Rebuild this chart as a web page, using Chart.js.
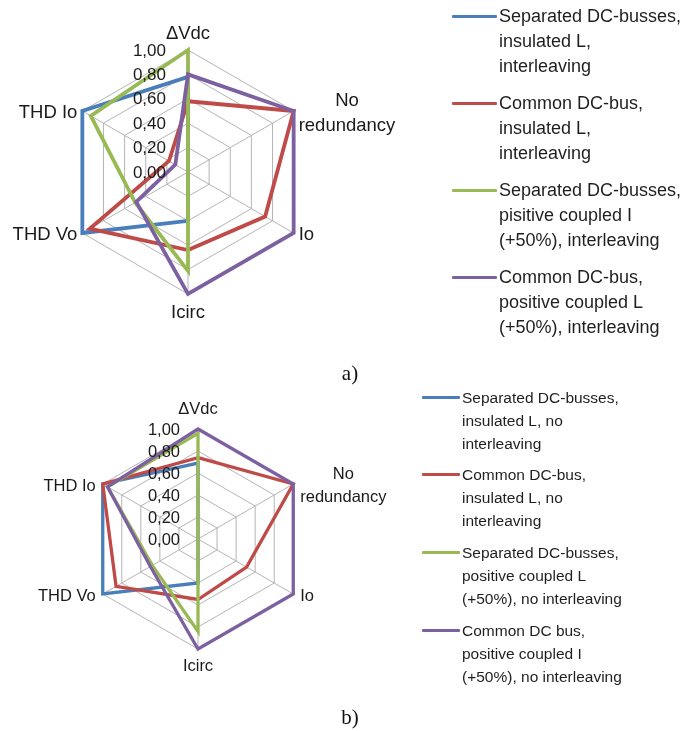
<!DOCTYPE html>
<html>
<head>
<meta charset="utf-8">
<script src="https://cdn.jsdelivr.net/npm/chart.js@4.4.1/dist/chart.umd.min.js"></script>
<style>
  html, body { margin: 0; padding: 0; background: #ffffff; }
  #fig { position: relative; width: 698px; height: 731px; overflow: hidden; background: #fff; }
  canvas { position: absolute; left: 0; }
  .legend { position: absolute; font-family: "Liberation Sans", Arial, sans-serif; color: #1f1f1f; }
  .item { position: absolute; left: 0; }
  .swatch { position: absolute; height: 3px; border-radius: 1px; }
  .txt { position: absolute; white-space: nowrap; }
  .cap { position: absolute; font-family: "Liberation Serif", "Times New Roman", serif; font-size: 21px; color: #111; transform: translate(-50%, -50%); }
</style>
</head>
<body>
<div id="fig">
  <canvas id="chartA" width="698" height="365" style="top:0"></canvas>
  <canvas id="chartB" width="698" height="366" style="top:365px"></canvas>
  <div class="legend" id="legendA"></div>
  <div class="legend" id="legendB"></div>
  <div class="cap" style="left:350px; top:373px">a)</div>
  <div class="cap" style="left:350px; top:717px">b)</div>
</div>
<script>
// Criteria around the radar, clockwise from the top
const criteria = ['ΔVdc', ['No', 'redundancy'], 'Io', 'Icirc', 'THD Vo', 'THD Io'];

// Radial axis ticks
const tickMin = 0;
const tickMax = 1;
const tickStep = 0.2;

// Series colours (same order in both plots)
const seriesColors = ['#4a7ebb', '#be4b48', '#98b954', '#7d60a0'];

// a) interleaving
const namesA = [
  ['Separated DC-busses,', 'insulated L,', 'interleaving'],
  ['Common DC-bus,', 'insulated L,', 'interleaving'],
  ['Separated DC-busses,', 'pisitive coupled I', '(+50%), interleaving'],
  ['Common DC-bus,', 'positive coupled L', '(+50%), interleaving']
];
const sepInsulatedA  = [0.78, 0.00, 0.00, 0.40, 1.00, 1.00];
const comInsulatedA  = [0.58, 1.00, 0.73, 0.64, 0.93, 0.18];
const sepCoupledA    = [1.00, 0.00, 0.00, 0.81, 0.50, 0.92];
const comCoupledA    = [0.80, 1.00, 1.00, 1.00, 0.49, 0.12];

// b) no interleaving
const namesB = [
  ['Separated DC-busses,', 'insulated L, no', 'interleaving'],
  ['Common DC-bus,', 'insulated L, no', 'interleaving'],
  ['Separated DC-busses,', 'positive coupled L', '(+50%), no interleaving'],
  ['Common DC bus,', 'positive coupled I', '(+50%), no interleaving']
];
const sepInsulatedB  = [0.69, 0.00, 0.00, 0.40, 1.00, 1.00];
const comInsulatedB  = [0.74, 1.00, 0.51, 0.55, 0.86, 1.00];
const sepCoupledB    = [0.96, 0.00, 0.00, 0.84, 0.48, 0.95];
const comCoupledB    = [1.00, 1.00, 1.00, 1.00, 0.50, 0.95];

const FONT = '"Liberation Sans", Arial, sans-serif';
const fmtTick = v => v.toFixed(2).replace('.', ',');

// Draws the tick values left of the vertical axis and the criterion names at the spokes
const radarText = {
  id: 'radarText',
  afterDatasetsDraw(chart, args, o) {
    const scale = chart.scales.r;
    const ctx = chart.ctx;
    ctx.save();
    ctx.fillStyle = '#1a1a1a';

    ctx.font = o.tickSize + 'px ' + FONT;
    ctx.textAlign = 'right';
    ctx.textBaseline = 'middle';
    scale.ticks.forEach(t => {
      const p = scale.getPointPositionForValue(0, t.value);
      ctx.fillText(fmtTick(t.value), p.x - o.tickGap, p.y + 1);
    });

    ctx.font = o.labelSize + 'px ' + FONT;
    const labels = chart.data.labels;
    labels.forEach((lab, i) => {
      const lines = Array.isArray(lab) ? lab : [lab];
      const v = scale.getPointPosition(i, scale.drawingArea);
      const dx = v.x - scale.xCenter;
      const widths = lines.map(s => ctx.measureText(s).width);
      const bw = Math.max(...widths);
      const lh = o.lineHeight;
      const bh = lh * lines.length;
      let cx, top;
      if (Math.abs(dx) < 2) {
        cx = v.x;
        top = v.y < scale.yCenter ? v.y - o.vGapTop - bh : v.y + o.vGapBottom;
      } else if (dx > 0) {
        cx = v.x + o.hGap + bw / 2;
        top = v.y - bh / 2 + o.sideShift;
      } else {
        cx = v.x - o.hGap - bw / 2;
        top = v.y - bh / 2 + o.sideShift;
      }
      ctx.textAlign = 'center';
      ctx.textBaseline = 'middle';
      lines.forEach((s, k) => ctx.fillText(s, cx, top + lh * k + lh / 2));
    });
    ctx.restore();
  }
};

function makeRadar(id, series, names, geo, look) {
  const datasets = series.map((vals, i) => ({
    label: names[i].join(' '),
    data: vals,
    borderColor: seriesColors[i],
    backgroundColor: seriesColors[i],
    borderWidth: look.lineWidth,
    pointRadius: 0,
    pointHoverRadius: 0,
    fill: false,
    tension: 0,
    order: series.length - i
  }));
  return new Chart(document.getElementById(id), {
    type: 'radar',
    data: { labels: criteria, datasets },
    options: {
      responsive: false,
      animation: false,
      events: [],
      layout: {
        padding: {
          left: geo.cx - geo.r,
          top: geo.cy - geo.r,
          right: geo.w - (geo.cx + geo.r),
          bottom: geo.h - (geo.cy + geo.r)
        }
      },
      scales: {
        r: {
          min: tickMin,
          max: tickMax,
          ticks: { stepSize: tickStep, display: false },
          pointLabels: { display: false },
          grid: { color: '#b4b4b4', lineWidth: 1 },
          angleLines: { color: '#b4b4b4', lineWidth: 1 }
        }
      },
      plugins: {
        legend: { display: false },
        tooltip: { enabled: false },
        radarText: look.text
      }
    },
    plugins: [radarText]
  });
}

function buildLegend(chart, names, elId, lg) {
  const box = document.getElementById(elId);
  box.style.left = lg.left + 'px';
  box.style.top = '0px';
  chart.data.datasets.forEach((ds, i) => {
    const item = document.createElement('div');
    item.className = 'item';
    const cy = lg.firstY + i * lg.step;
    const sw = document.createElement('div');
    sw.className = 'swatch';
    sw.style.left = '0px';
    sw.style.width = lg.swatch + 'px';
    sw.style.top = (cy - 1.5) + 'px';
    sw.style.background = ds.borderColor;
    box.appendChild(sw);
    names[i].forEach((line, k) => {
      const t = document.createElement('div');
      t.className = 'txt';
      t.textContent = line;
      t.style.left = (lg.swatch + 2) + 'px';
      t.style.fontSize = lg.size + 'px';
      t.style.lineHeight = lg.lh + 'px';
      t.style.height = lg.lh + 'px';
      t.style.top = (cy + k * lg.lh - lg.lh / 2) + 'px';
      box.appendChild(t);
    });
  });
}

const chartA = makeRadar('chartA',
  [sepInsulatedA, comInsulatedA, sepCoupledA, comCoupledA], namesA,
  { cx: 66 + 122, cy: 172, r: 122, w: 698, h: 365 },
  { lineWidth: 3.8,
    text: { tickSize: 17, tickGap: 22, labelSize: 18.5, lineHeight: 25,
            vGapTop: 4, vGapBottom: 6, hGap: 5, sideShift: 2 } });

const chartB = makeRadar('chartB',
  [sepInsulatedB, comInsulatedB, sepCoupledB, comCoupledB], namesB,
  { cx: 88 + 110, cy: 174, r: 110, w: 698, h: 366 },
  { lineWidth: 3.3,
    text: { tickSize: 16.5, tickGap: 18, labelSize: 16.5, lineHeight: 23,
            vGapTop: 8, vGapBottom: 6, hGap: 7, sideShift: 2 } });

buildLegend(chartA, namesA, 'legendA',
  { left: 452, firstY: 16, step: 87, swatch: 45, size: 18, lh: 25 });
buildLegend(chartB, namesB, 'legendB',
  { left: 422, firstY: 397, step: 77.7, swatch: 38, size: 15.5, lh: 23 });
</script>
</body>
</html>
